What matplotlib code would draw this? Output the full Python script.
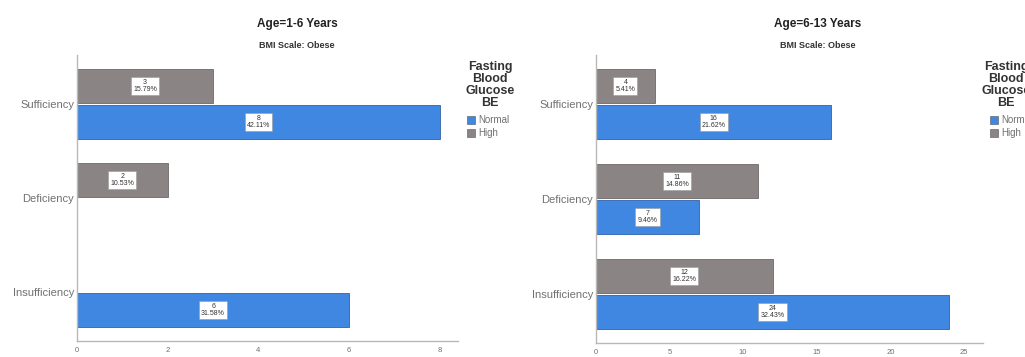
import matplotlib
matplotlib.use("Agg")
import matplotlib.pyplot as plt
import numpy as np

plt.rcParams["font.family"] = ["Liberation Sans", "DejaVu Sans"]

categories = ["Insufficiency", "Deficiency", "Sufficiency"]

# Age 1-6 (n=19); None = no bar
young_normal = [6, None, 8]
young_high = [None, 2, 3]
young_normal_pct = ["31.58%", None, "42.11%"]
young_high_pct = [None, "10.53%", "15.79%"]

# Age 6-13 (n=74)
old_normal = [24, 7, 16]
old_high = [12, 11, 4]
old_normal_pct = ["32.43%", "9.46%", "21.62%"]
old_high_pct = ["16.22%", "14.86%", "5.41%"]

BLUE = "#3f87e0"
GRAY = "#8b8484"
AXIS = "#b8b8b8"
TXT = "#707070"

fig = plt.figure(figsize=(10.25, 3.57), dpi=100)


def panel(rect, normal, high, npct, hpct, xlim, xticks):
    ax = fig.add_axes(rect)
    y = np.arange(len(categories))
    h = 0.36
    for vals, pcts, off, col, edge in [(high, hpct, h / 2 + 0.01, GRAY, "#6f6868"),
                                        (normal, npct, -h / 2 - 0.01, BLUE, "#2f62a8")]:
        for yi, v, p in zip(y, vals, pcts):
            if v is None:
                continue
            ax.barh(yi + off, v, height=h, color=col, edgecolor=edge, linewidth=0.6)
            ax.text(v / 2, yi + off, f"{v}\n{p}", ha="center", va="center",
                    fontsize=5, color="#333333", linespacing=1.0,
                    bbox=dict(boxstyle="square,pad=0.3", fc="white", ec="#999999", lw=0.4))
    ax.set_xlim(*xlim)
    ax.set_ylim(-0.52, 2.52)
    ax.set_yticks(y)
    ax.set_yticklabels(categories)
    ax.set_xticks(xticks)
    ax.tick_params(axis="both", length=0, labelsize=8, colors=TXT, pad=2)
    ax.tick_params(axis="x", labelsize=5.5, pad=4)
    for s in ["top", "right"]:
        ax.spines[s].set_visible(False)
    for s in ["left", "bottom"]:
        ax.spines[s].set_color(AXIS)
        ax.spines[s].set_linewidth(1.0)
    return ax


panel([77 / 1025, 1 - 341 / 357, 381 / 1025, 286 / 357],
      young_normal, young_high, young_normal_pct, young_high_pct, (0, 8.4), [0, 2, 4, 6, 8])
panel([596 / 1025, 1 - 343 / 357, 387 / 1025, 288 / 357],
      old_normal, old_high, old_normal_pct, old_high_pct, (0, 26.3), [0, 5, 10, 15, 20, 25])


def titles(cx, title):
    fig.text(cx / 1025, 1 - 24 / 357, title, ha="center", va="center",
             fontsize=8.5, fontweight="bold", color="#222222")
    fig.text(cx / 1025, 1 - 46 / 357, "BMI Scale: Obese", ha="center", va="center",
             fontsize=6.5, fontweight="bold", color="#333333")


def legend(cx, sx):
    fig.text(cx / 1025, 1 - 85 / 357, "Fasting\nBlood\nGlucose\nBE", ha="center", va="center",
             fontsize=9, fontweight="bold", color="#333333", linespacing=1.0)
    for yy, lab, col in [(120, "Normal", BLUE), (133, "High", GRAY)]:
        fig.patches.append(plt.Rectangle((sx / 1025, 1 - (yy + 4) / 357), 8 / 1025, 8 / 357,
                                         transform=fig.transFigure, fc=col, ec="#555555", lw=0.4))
        fig.text((sx + 11) / 1025, 1 - yy / 357, lab, ha="left", va="center",
                 fontsize=7, color=TXT)


titles(297, "Age=1-6 Years")
titles(818, "Age=6-13 Years")
legend(490, 467)
legend(1006, 990)

fig.savefig("out.png", dpi=100)
